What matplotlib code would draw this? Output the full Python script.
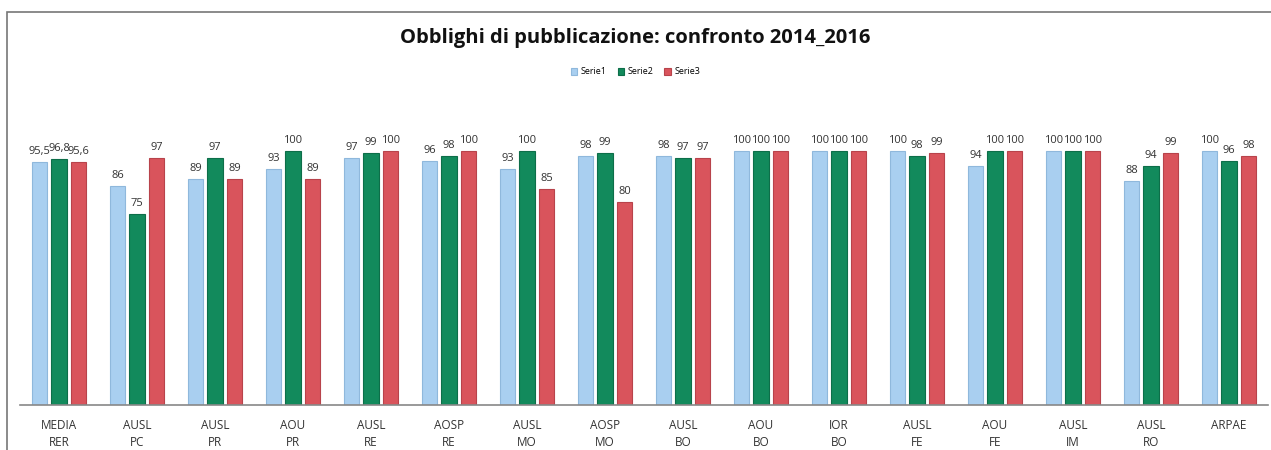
import numpy as np
import matplotlib.pyplot as plt
from matplotlib.patches import Rectangle

# Data
categories = ["MEDIA\nRER", "AUSL\nPC", "AUSL\nPR", "AOU\nPR", "AUSL\nRE", "AOSP\nRE",
              "AUSL\nMO", "AOSP\nMO", "AUSL\nBO", "AOU\nBO", "IOR\nBO", "AUSL\nFE",
              "AOU\nFE", "AUSL\nIM", "AUSL\nRO", "ARPAE"]
serie1 = [95.5, 86, 89, 93, 97, 96, 93, 98, 98, 100, 100, 100, 94, 100, 88, 100]
serie2 = [96.8, 75, 97, 100, 99, 98, 100, 99, 97, 100, 100, 98, 100, 100, 94, 96]
serie3 = [95.6, 97, 89, 89, 100, 100, 85, 80, 97, 100, 100, 99, 100, 100, 99, 98]
series_names = ["Serie1", "Serie2", "Serie3"]

colors = ["#a9cff0", "#128a5c", "#d9545c"]
edges = ["#8fb8dc", "#0d6e49", "#b8434b"]

plt.rcParams['font.family'] = ['Open Sans', 'DejaVu Sans']

fig = plt.figure(figsize=(12.71, 4.5), dpi=100)
ax = fig.add_axes([20 / 1271, 45 / 450, 1248 / 1271, 305 / 450])

x = np.arange(len(categories))
width = 0.205
step = 0.25


def fmt(v):
    if float(v).is_integer():
        return str(int(v))
    return f"{v:.1f}".replace(".", ",")


for i, vals in enumerate([serie1, serie2, serie3]):
    bars = ax.bar(x + (i - 1) * step, vals, width, color=colors[i],
                  edgecolor=edges[i], linewidth=0.8, label=series_names[i])
    for b, v in zip(bars, vals):
        ax.text(b.get_x() + b.get_width() / 2, v + 2, fmt(v),
                ha="center", va="bottom", fontsize=8, color="#333333")

ax.set_xlim(-0.5, len(categories) - 0.5)
ax.set_ylim(0, 120)
ax.set_yticks([])
ax.set_xticks(x)
ax.set_xticklabels(categories, fontsize=8.5, color="#333333", linespacing=1.45)
ax.tick_params(axis="x", length=0, pad=10)
for s in ["top", "right", "left"]:
    ax.spines[s].set_visible(False)
ax.spines["bottom"].set_color("#888888")
ax.spines["bottom"].set_linewidth(1.2)

fig.text(0.5, 1 - 38 / 450, "Obblighi di pubblicazione: confronto 2014_2016",
         ha="center", va="center", fontsize=14.5, fontweight="bold", color="#111111")

leg = fig.legend(loc="center", bbox_to_anchor=(0.5, 1 - 72 / 450), ncol=3,
                 frameon=False, fontsize=6.5, handlelength=0.7, handleheight=0.7,
                 columnspacing=1.2, handletextpad=0.4)

# outer chart frame
fig.patches.append(Rectangle((7 / 1271, -0.1), 1.2, 1 - 12 / 450 + 0.1,
                             transform=fig.transFigure, fill=False,
                             edgecolor="#777777", linewidth=1.2))

fig.savefig("out.png", dpi=100)
